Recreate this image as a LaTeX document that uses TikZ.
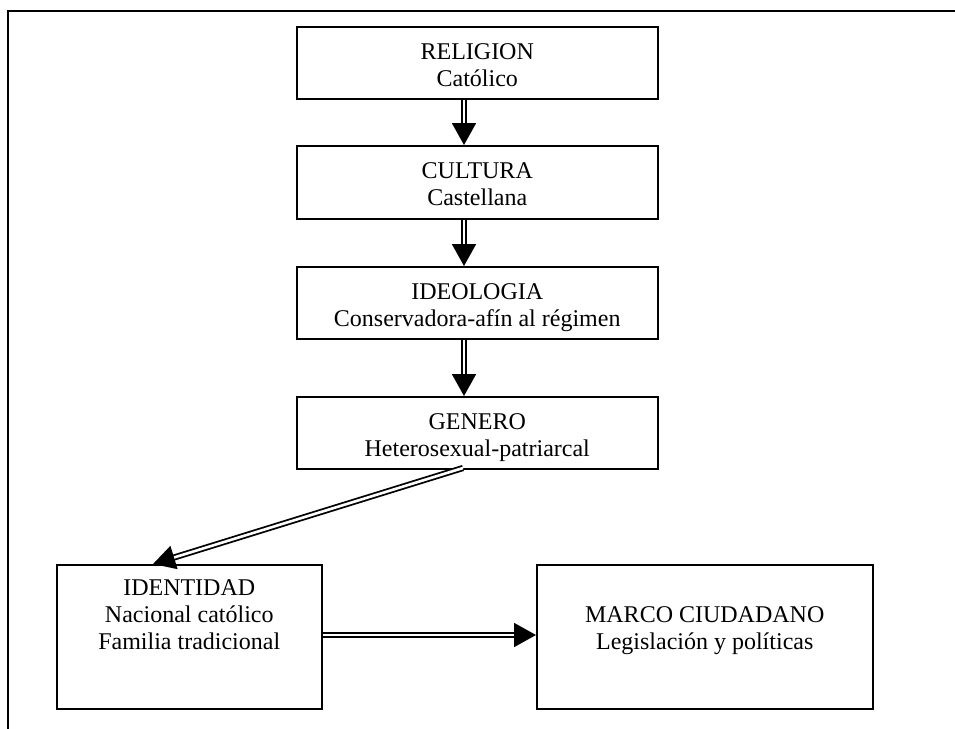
\documentclass[tikz,border=0pt]{standalone}
\usepackage{fontspec}
\setmainfont{Liberation Serif}
\usetikzlibrary{arrows.meta}
\begin{document}
\begin{tikzpicture}[x=0.5pt,y=-0.5pt,
  box/.style={draw, line width=0.75pt, rectangle, inner sep=0pt, anchor=north west},
  txt/.style={font=\fontsize{12}{13.5}\selectfont, align=center, inner sep=0pt, anchor=north},
  dbl/.style={double, line width=0.9pt, double distance=1.3pt, -{Triangle[width=12pt,length=11pt]}},
  frame/.style={line width=1pt}]
\useasboundingbox (0,0) rectangle (955,729);
% outer frame (partial)
\coordinate (ftl) at (8,11);
\coordinate (ftr) at (955,11);
\coordinate (fbl) at (8,729);
\draw[frame] (fbl) -- (ftl) -- (ftr);
% boxes
\node[box, minimum width=180.5pt, minimum height=36pt] (rel) at (296,26) {};
\node[box, minimum width=180.5pt, minimum height=36.5pt] (cul) at (296,145) {};
\node[box, minimum width=180.5pt, minimum height=36pt] (ide) at (296,266) {};
\node[box, minimum width=180.5pt, minimum height=36pt] (gen) at (296,396) {};
\node[box, minimum width=132.5pt, minimum height=72pt] (idn) at (56,564) {};
\node[box, minimum width=168pt, minimum height=72pt] (mar) at (536,564) {};
% texts
\node[txt] (relt) at ([yshift=-7.05pt]rel.north) {\strut RELIGION\\\strut Católico};
\node[txt] (cult) at ([yshift=-7.05pt]cul.north) {\strut CULTURA\\\strut Castellana};
\node[txt] (idet) at ([yshift=-7.05pt]ide.north) {\strut IDEOLOGIA\\\strut Conservadora-afín al régimen};
\node[txt] (gent) at ([yshift=-7.05pt]gen.north) {\strut GENERO\\\strut Heterosexual-patriarcal};
\node[txt] (idnt) at ([yshift=-6.05pt]idn.north) {\strut IDENTIDAD\\\strut Nacional católico\\\strut Familia tradicional};
\node[txt] (mart) at ([yshift=-19.55pt]mar.north) {\strut MARCO CIUDADANO\\\strut Legislación y políticas};
% arrows
\coordinate (ax) at (464,0);
\coordinate (ay) at (0,635);
\coordinate (ds) at (463,468);
\coordinate (de) at (153,564);
\draw[dbl] (rel.south -| ax) -- (cul.north -| ax);
\draw[dbl] (cul.south -| ax) -- (ide.north -| ax);
\draw[dbl] (ide.south -| ax) -- (gen.north -| ax);
\draw[dbl] (ds) -- (de);
\draw[dbl] (idn.east |- ay) -- (mar.west |- ay);
\end{tikzpicture}
\end{document}
